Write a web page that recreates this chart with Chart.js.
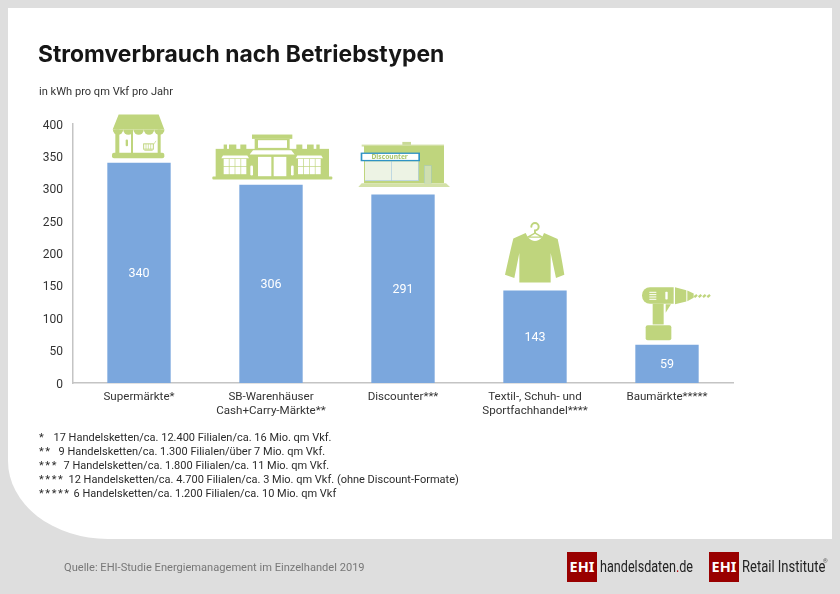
<!DOCTYPE html>
<html lang="de"><head><meta charset="utf-8">
<script src="https://cdn.jsdelivr.net/npm/chart.js@4"></script>
<style>
html,body{margin:0;padding:0;width:840px;height:594px;overflow:hidden;background:#dedede;font-family:Roboto,sans-serif;}
#panel{position:absolute;left:8px;top:8px;width:824px;height:531px;background:#fff;border-bottom-left-radius:100px 78px;}
canvas{position:absolute;left:0;top:0;}
.t{position:absolute;white-space:pre;line-height:1;}
#title{left:38px;top:39.5px;font:700 22.86px Inter,sans-serif;color:#161616;}
#unit{left:39px;top:86px;font-size:11.1px;color:#333;}
.fn{left:39px;font-size:11px;color:#2b2b2b;}
.fn b{display:inline-block;font-weight:400;letter-spacing:1.6px;}
#src{left:64px;top:562px;font-size:11.1px;color:#777;}
.box{position:absolute;top:552px;width:30px;height:30px;background:#990000;color:#fff;font:700 14.5px/28px "Noto Sans",sans-serif;text-align:center;}
.logo{position:absolute;top:558px;font:400 16px/18px Roboto,sans-serif;color:#222;white-space:pre;transform-origin:0 0;}
</style></head><body>
<div id="panel"></div>
<canvas id="c" width="840" height="594"></canvas>
<div class="t" id="title">Stromverbrauch nach Betriebstypen</div>
<div class="t" id="unit">in kWh pro qm Vkf pro Jahr</div>
<div id="notes"></div>
<div class="t" id="src">Quelle: EHI-Studie Energiemanagement im Einzelhandel 2019</div>
<div class="box" style="left:567px">EHI</div>
<div class="logo" data-w="93" style="left:600px">handelsdaten<span style="color:#b00000">.</span>de</div>
<div class="box" style="left:709px">EHI</div>
<div class="logo" data-w="83" style="left:742px">Retail Institute</div>
<div class="t" style="left:823px;top:558px;font-size:6px;color:#555">®</div>
<script>
const categories = [["Supermärkte*"],["SB-Warenhäuser","Cash+Carry-Märkte**"],["Discounter***"],["Textil-, Schuh- und","Sportfachhandel****"],["Baumärkte*****"]];
const values = [340,306,291,143,59];
const iconNames = ["market","warehouse","discounter","shirt","drill"];
const noteMarks = ["*","**","***","****","*****"];
const noteTexts = [
"17 Handelsketten/ca. 12.400 Filialen/ca. 16 Mio. qm Vkf.",
"9 Handelsketten/ca. 1.300 Filialen/über 7 Mio. qm Vkf.",
"7 Handelsketten/ca. 1.800 Filialen/ca. 11 Mio. qm Vkf.",
"12 Handelsketten/ca. 4.700 Filialen/ca. 3 Mio. qm Vkf. (ohne Discount-Formate)",
"6 Handelsketten/ca. 1.200 Filialen/ca. 10 Mio. qm Vkf"];
const notes=document.getElementById('notes');
noteTexts.forEach((s,i)=>{const d=document.createElement('div');d.className='t fn';d.style.top=(431.5+i*14.1)+'px';
 const m=document.createElement('b');m.style.width=(9.5+noteMarks[i].length*5)+'px';m.textContent=noteMarks[i];
 d.appendChild(m);d.appendChild(document.createTextNode(s));notes.appendChild(d);});
document.querySelectorAll('.logo').forEach(e=>{e.style.transform='scaleX('+(+e.dataset.w/e.offsetWidth)+')';});

const G='#bfd57d', W='#fff';
function R(c,x,y,w,h,col){c.fillStyle=col||G;c.fillRect(x,y,w,h);}
function P(c,pts,col){c.fillStyle=col||G;c.beginPath();pts.forEach((p,i)=>i?c.lineTo(p[0],p[1]):c.moveTo(p[0],p[1]));c.closePath();c.fill();}
function RR(c,x,y,w,h,r,col){c.fillStyle=col||G;c.beginPath();c.roundRect(x,y,w,h,r);c.fill();}
// Icons are sketched on a 3x grid, anchored on the bar's centre (ax) and top (ay)
const icons={
 market(c){const ax=149,ay=190;
  c.translate(-ax,-ay);
  R(c,78,90,12,72);R(c,205,90,9,72);R(c,125,95,6,66);
  P(c,[[88,45],[208,45],[225,90],[70,90]]);
  for(let i=0;i<5;i++){c.fillStyle=G;c.beginPath();c.arc(86+i*31,90,15.5,0,Math.PI);c.fill();}
  RR(c,109,120,7,20,3);
  RR(c,68,160,157,16,6);
  c.strokeStyle=G;c.lineWidth=3;
  c.strokeRect(163,133,29,16);
  c.lineWidth=2;for(let x=170;x<190;x+=7){c.beginPath();c.moveTo(x,133);c.lineTo(x,149);c.stroke();}
  c.beginPath();c.moveTo(192,136);c.lineTo(200,124);c.stroke();
  c.beginPath();c.moveTo(165,153);c.lineTo(190,153);c.stroke();
 },
 warehouse(c){const ax=544,ay=256;
  c.translate(-ax,-ay);
  RR(c,368,231,360,9,3);
  R(c,378,148,340,85);
  [[402,10],[418,22],[452,18],[620,18],[652,20],[680,10]].forEach(a=>R(c,a[0],135,a[1],14));
  R(c,487,105,121,13);R(c,495,118,105,35);R(c,505,122,87,23,W);
  P(c,[[490,152],[605,152],[615,165],[480,165]],W);
  R(c,505,172,40,58,W);R(c,552,172,38,58,W);
  [[395,478],[618,700]].forEach(a=>{P(c,[[a[0]+5,168],[a[1]-5,168],[a[1],176],[a[0],176]],W);
   const x0=a[0]+7,n=4,w=70/n;
   for(let i=0;i<n;i++)for(let j=0;j<2;j++)R(c,x0+i*w,178+j*24,w-2,22,W);});
  RR(c,482,198,8,30,4,W);RR(c,604,198,8,30,4,W);
 },
 discounter(c){const ax=939,ay=286;
  c.translate(-ax,-ay);
  R(c,937,128,26,10,'#c9da97');
  R(c,815,136,247,6,'#d3e1a7');
  R(c,822,140,240,112);
  P(c,[[815,252],[1068,252],[1080,263],[805,263]],'#d3e1a7');
  R(c,825,186,160,59,'#edf3e4');
  R(c,904,186,2,59,'#a9cbe0');R(c,825,243,160,2,'#a9cbe0');R(c,984,186,2,59,'#a9cbe0');
  R(c,1002,198,23,54,'#a9cbb8');R(c,1004,200,19,52,'#cfdfb0');
  R(c,812,160,178,26,'#2f93c4');R(c,817,164,168,18,W);
  c.fillStyle='#a9c56a';c.font='700 20px "Noto Sans",sans-serif';c.textAlign='center';c.textBaseline='middle';
  c.fillText('Discounter',899,173);
 },
 shirt(c){const ax=165,ay=244;
  c.translate(-ax,-ay);
  c.strokeStyle=G;c.lineWidth=6;c.lineCap='round';
  c.beginPath();c.arc(165,53,11,Math.PI*1.0,Math.PI*2.5);c.lineTo(165,72);c.stroke();
  c.lineWidth=4;c.beginPath();c.moveTo(165,72);c.lineTo(143,84);c.lineTo(187,84);c.closePath();c.stroke();
  c.fillStyle=G;c.beginPath();c.moveTo(137,72);c.lineTo(100,88);c.quadraticCurveTo(92,120,75,197);c.lineTo(103,207);c.lineTo(118,132);
  c.lineTo(118,220);c.lineTo(212,220);c.lineTo(212,132);c.lineTo(228,207);c.lineTo(253,197);c.quadraticCurveTo(242,130,233,90);c.lineTo(192,72);
  c.lineTo(187,84);c.quadraticCurveTo(165,108,143,84);c.closePath();c.fill();
 },
 drill(c){const ax=560,ay=406;
  c.translate(-ax,-ay);
  RR(c,485,233,95,50,[24,0,0,24]);
  P(c,[[584,233],[618,242],[618,276],[584,284]]);
  P(c,[[621,243],[640,252],[640,265],[621,275]]);
  c.strokeStyle=G;c.lineWidth=7;
  for(let i=0;i<4;i++){c.beginPath();c.moveTo(642+i*13,263);c.lineTo(650+i*13,256);c.stroke();}
  R(c,517,283,33,62);
  P(c,[[556,284],[572,284],[556,310]]);
  RR(c,496,347,77,45,6);
  [247,254,261,268].forEach(y=>R(c,507,y,21,3,W));
  RR(c,555,247,7,23,2,W);
 }
};
const extras={id:'extras',afterDatasetsDraw(chart){
  const c=chart.ctx,meta=chart.getDatasetMeta(0);
  meta.data.forEach((b,i)=>{
    c.save();c.fillStyle='#fff';c.font='12.5px Roboto,sans-serif';c.textAlign='center';c.textBaseline='middle';
    c.fillText(String(values[i]),b.x,(b.y+b.base)/2+1);c.restore();
    c.save();c.translate(b.x,b.y);c.scale(1/3,1/3);icons[iconNames[i]](c);c.restore();
  });
}};
function nudgeLabels(scale){
  if(scale._nudged)return;scale._nudged=true;
  const f=scale._computeLabelItems.bind(scale);
  scale._computeLabelItems=a=>f(a).map(it=>{it.options.translation[1]+=1.5;return it;});
}
new Chart(document.getElementById('c'),{type:'bar',
 data:{labels:categories,datasets:[{data:values,backgroundColor:'#7ba7dd',barPercentage:1,categoryPercentage:0.48}]},
 plugins:[extras],
 options:{responsive:false,animation:false,devicePixelRatio:1,
  layout:{padding:{left:30,right:107,top:124,bottom:171}},
  plugins:{legend:{display:false},tooltip:{enabled:false},title:{display:false}},
  scales:{
   x:{afterFit(a){a.height=40;},grid:{display:false,drawTicks:false},border:{color:'#c4c4c4',width:1.5},
      ticks:{color:'#333',font:{family:'Roboto',size:11.6,lineHeight:1.2},padding:7,maxRotation:0,autoSkip:false}},
   y:{afterFit(a){a.width=43;},afterUpdate:nudgeLabels,min:0,max:400,grid:{display:false,drawTicks:false},border:{color:'#c4c4c4',width:1.5},
      ticks:{stepSize:50,color:'#333',font:{family:'Roboto',size:12},padding:10}}
  }}});
</script>
</body></html>
